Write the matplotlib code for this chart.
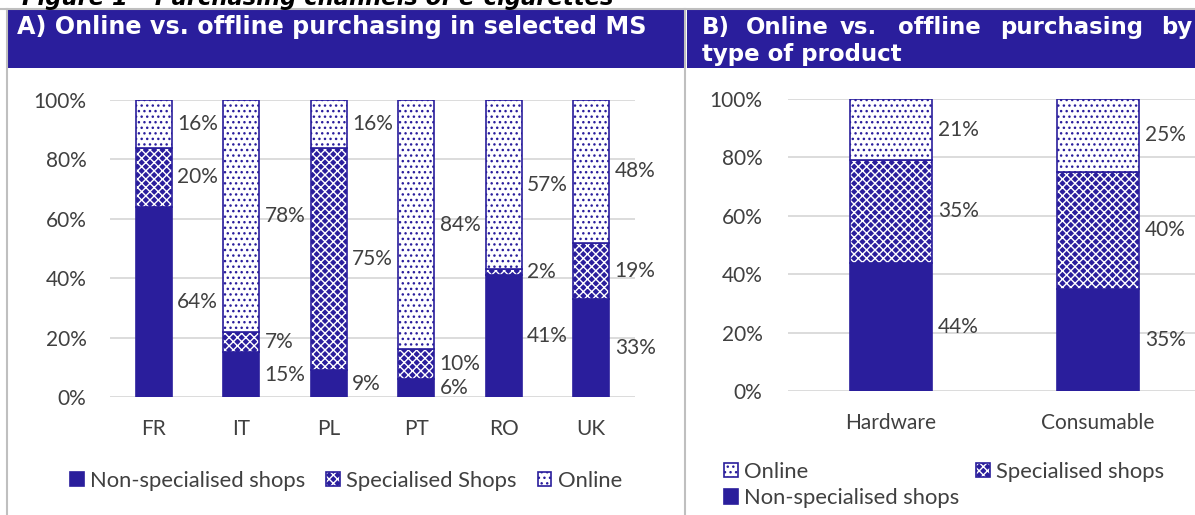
import matplotlib
matplotlib.use("Agg")
import matplotlib.pyplot as plt
import matplotlib.patches as mpatches
from matplotlib.lines import Line2D

# ---------------- data ----------------
countries = ["FR", "IT", "PL", "PT", "RO", "UK"]
a_nonspec = [64, 15, 9, 6, 41, 33]
a_spec = [20, 7, 75, 10, 2, 19]
a_online = [16, 78, 16, 84, 57, 48]

products = ["Hardware", "Consumable"]
b_nonspec = [44, 35]
b_spec = [35, 40]
b_online = [21, 25]

yticks = [0, 20, 40, 60, 80, 100]
ytick_labels = ["0%", "20%", "40%", "60%", "80%", "100%"]

title_a = "A) Online vs. offline purchasing in selected MS"
title_b_line1 = ["B)", "Online", "vs.", "offline", "purchasing", "by"]
title_b_line2 = "type of product"
fig_title = "Figure 1 \u2013 Purchasing channels of e-cigarettes"

# ---------------- style ----------------
BLUE = "#2a1e9c"
GRID = "#d9d9d9"
TXT = "#404040"
BORDER = "#bfbfbf"
FONT = "Lato"
FS = 15
LFS = 15.8

plt.rcParams["font.family"] = [FONT, "DejaVu Sans"]
plt.rcParams["hatch.linewidth"] = 1.0

W, H = 1195, 515
fig = plt.figure(figsize=(W / 100, H / 100), dpi=100)


def fx(px):
    return px / W


def fy(py):
    return 1 - py / H


# frame lines / headers
fig.add_artist(Line2D([fx(0), fx(W)], [fy(9), fy(9)], color=BORDER, lw=1.5))
fig.add_artist(Line2D([fx(7), fx(7)], [fy(9), fy(H)], color=BORDER, lw=1.5))
fig.add_artist(Line2D([fx(685), fx(685)], [fy(9), fy(H)], color=BORDER, lw=1.5))
fig.add_artist(mpatches.Rectangle((fx(8), fy(68)), fx(676), 59 / H,
                                  color=BLUE, transform=fig.transFigure, lw=0))
fig.add_artist(mpatches.Rectangle((fx(687), fy(68)), fx(W - 687), 59 / H,
                                  color=BLUE, transform=fig.transFigure, lw=0))

fig.text(fx(22), fy(5), fig_title, fontsize=16.3, fontweight="bold",
         fontstyle="italic", family="DejaVu Sans", color="black",
         va="baseline", ha="left")

fig.text(fx(17), fy(34), title_a, fontsize=17.2, fontweight="bold",
         family="DejaVu Sans", color="white", va="baseline", ha="left")
b_x = [702, 746, 840, 898, 1000]
for word, xp in zip(title_b_line1[:-1], b_x):
    fig.text(fx(xp), fy(34), word, fontsize=16.5, fontweight="bold",
             family="DejaVu Sans", color="white", va="baseline", ha="left")
fig.text(fx(1192), fy(34), title_b_line1[-1], fontsize=16.5, fontweight="bold",
         family="DejaVu Sans", color="white", va="baseline", ha="right")
fig.text(fx(702), fy(61), title_b_line2, fontsize=16.5, fontweight="bold",
         family="DejaVu Sans", color="white", va="baseline", ha="left")


def seg_layers(kind):
    """list of (facecolor, edgecolor, hatch, lw) layers for a segment"""
    if kind == "nonspec":
        return [(BLUE, BLUE, None, 1.2)]
    if kind == "spec":
        return [(BLUE, "white", "xxxx", 0), ("none", BLUE, None, 1.2)]
    return [("white", BLUE, "...", 1.2)]


def draw_panel(ax, cats, series, width):
    x = list(range(len(cats)))
    bottoms = [0] * len(cats)
    for kind, vals in series:
        for fc, ec, hatch, lw in seg_layers(kind):
            ax.bar(x, vals, width, bottom=bottoms, facecolor=fc,
                   edgecolor=ec, hatch=hatch, lw=lw, zorder=3)
        for xi, v, b in zip(x, vals, bottoms):
            ax.annotate(f"{v}%", (xi + width / 2, b + v / 2), xytext=(4, 0),
                        textcoords="offset points", ha="left", va="center",
                        fontsize=FS, color=TXT, zorder=4)
        bottoms = [b + v for b, v in zip(bottoms, vals)]
    ax.set_xlim(-0.5, len(cats) - 0.5)
    ax.set_ylim(0, 100)
    ax.set_yticks(yticks)
    ax.set_yticklabels(ytick_labels)
    ax.set_xticks(x)
    ax.set_xticklabels(cats)
    ax.tick_params(length=0, labelsize=FS, labelcolor=TXT)
    ax.tick_params(axis="x", pad=16)
    for s in ax.spines.values():
        s.set_visible(False)
    ax.grid(axis="y", color=GRID, lw=1.3, zorder=0)
    ax.set_axisbelow(True)


axA = fig.add_axes([fx(110), fy(397), fx(525), 297 / H])
draw_panel(axA, countries,
           [("nonspec", a_nonspec), ("spec", a_spec), ("online", a_online)], 0.41)
axA.tick_params(axis="y", pad=17)

axB = fig.add_axes([fx(787.5), fy(391), fx(414), 292 / H])
draw_panel(axB, products,
           [("nonspec", b_nonspec), ("spec", b_spec), ("online", b_online)], 0.40)
axB.tick_params(axis="y", pad=18)


def handle(kind):
    return tuple(mpatches.Patch(facecolor=fc, edgecolor=ec, hatch=h, lw=lw)
                 for fc, ec, h, lw in seg_layers(kind))


legA = fig.legend(handles=[handle("nonspec"), handle("spec"), handle("online")],
                  labels=["Non-specialised shops", "Specialised Shops", "Online"],
                  loc="center left", bbox_to_anchor=(fx(70), fy(481)),
                  ncol=3, frameon=False, fontsize=LFS, labelcolor=TXT,
                  handlelength=0.62, handleheight=0.62, handletextpad=0.3,
                  columnspacing=0.95, borderpad=0, borderaxespad=0)

legB = fig.legend(handles=[handle("online"), handle("nonspec"), handle("spec")],
                  labels=["Online", "Non-specialised shops", "Specialised shops"],
                  loc="center left", bbox_to_anchor=(fx(724), fy(485)),
                  ncol=2, frameon=False, fontsize=LFS, labelcolor=TXT,
                  handlelength=0.62, handleheight=0.62, handletextpad=0.3,
                  columnspacing=0.75, labelspacing=0.3, borderpad=0,
                  borderaxespad=0)

fig.savefig("out.png", dpi=100)
